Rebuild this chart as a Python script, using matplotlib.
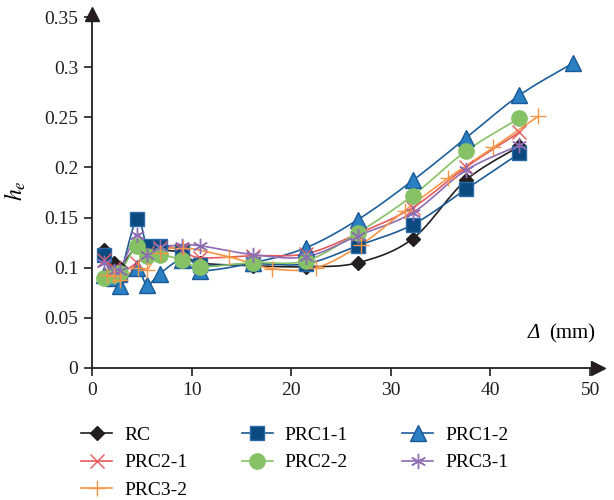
#!/usr/bin/env python

'''Equivalent damping ratio h_e against displacement for the RC and PRC specimens'''

import numpy as np
import matplotlib
matplotlib.use('Agg')
from matplotlib.pyplot import figure
from matplotlib.lines import Line2D

# displacement steps (mm) shared by most specimens
disp = [1.2, 2.2, 2.8, 4.5, 5.5, 6.8, 9.0, 10.8, 16.2, 21.5, 26.7, 32.2, 37.5, 42.9]
disp_prc12 = disp + [48.3]
disp_prc32 = [1.5, 2.2, 2.8, 4.6, 5.5, 6.8, 9.1, 13.7, 18.1, 22.5, 27.0, 31.4, 35.7, 40.3, 44.8]

he_rc    = [0.118, 0.105, 0.100, 0.122, 0.120, 0.118, 0.115, 0.105, 0.102, 0.101, 0.105, 0.129, 0.187, 0.221]
he_prc11 = [0.113, 0.096, 0.093, 0.149, 0.122, 0.122, 0.117, 0.103, 0.104, 0.104, 0.122, 0.143, 0.178, 0.214]
he_prc12 = [0.093, 0.090, 0.082, 0.100, 0.083, 0.094, 0.108, 0.097, 0.105, 0.120, 0.148, 0.187, 0.229, 0.272, 0.304]
he_prc21 = [0.108, 0.100, 0.095, 0.105, 0.115, 0.120, 0.118, 0.110, 0.112, 0.114, 0.134, 0.160, 0.200, 0.235]
he_prc22 = [0.090, 0.093, 0.095, 0.122, 0.112, 0.113, 0.108, 0.101, 0.105, 0.107, 0.135, 0.172, 0.216, 0.249]
he_prc31 = [0.105, 0.097, 0.097, 0.133, 0.113, 0.121, 0.122, 0.122, 0.113, 0.111, 0.132, 0.155, 0.197, 0.222]
he_prc32 = [0.093, 0.092, 0.088, 0.100, 0.098, 0.115, 0.120, 0.111, 0.099, 0.100, 0.123, 0.157, 0.189, 0.220, 0.251]

labels = ['RC', 'PRC1-1', 'PRC1-2', 'PRC2-1', 'PRC2-2', 'PRC3-1', 'PRC3-2']
xs = [disp, disp, disp_prc12, disp, disp, disp, disp_prc32]
ys = [he_rc, he_prc11, he_prc12, he_prc21, he_prc22, he_prc31, he_prc32]

# (line colour, marker, face colour, edge colour, marker size)
styles = [('#231f20', 'D', '#231f20', '#231f20', 7),
          ('#1d5a93', 's', '#0b4a80', '#2a6aa6', 10),
          ('#1d5f9c', '^', '#2b80c4', '#1a5a96', 11),
          ('#e65a5c', 'x', 'none',    '#e65a5c', 10),
          ('#86c166', 'o', '#86c166', '#86c166', 11),
          ('#8e6cb3', (6, 2, 0), 'none', '#8e6cb3', 11),
          ('#f79646', '+', 'none',    '#f79646', 12)]


def smooth(x, y, n=12):
    '''Catmull-Rom curve through the points, like a spreadsheet smoothed line'''
    x = np.asarray(x, float)
    y = np.asarray(y, float)
    P = np.column_stack([x, y])
    P = np.vstack([P[0], P, P[-1]])
    out = []
    t = np.linspace(0, 1, n, endpoint=False)[:, None]
    for i in range(1, len(P) - 2):
        p0, p1, p2, p3 = P[i-1], P[i], P[i+1], P[i+2]
        out.append(0.5 * (2*p1 + (-p0 + p2)*t + (2*p0 - 5*p1 + 4*p2 - p3)*t**2
                          + (-p0 + 3*p1 - 3*p2 + p3)*t**3))
    out.append(P[-2][None, :])
    out = np.vstack(out)
    return out[:, 0], out[:, 1]


matplotlib.rcParams['font.family'] = ['Liberation Serif', 'DejaVu Serif']
matplotlib.rcParams['mathtext.fontset'] = 'stix'

fig = figure(figsize=(6.14, 5.0), dpi=100)
ax = fig.add_axes([0.150, 0.264, 0.824, 0.708])

handles = []
for k in range(len(labels)):
    lc, mk, fc, ec, ms = styles[k]
    sx, sy = smooth(xs[k], ys[k])
    ax.plot(sx, sy, color=lc, lw=1.2, zorder=2)
    ax.plot(xs[k], ys[k], ls='none', marker=mk, markersize=ms,
            markerfacecolor=fc, markeredgecolor=ec, markeredgewidth=1.0, zorder=3)
    handles.append(Line2D([], [], color=lc, lw=1.2, marker=mk, markersize=ms,
                          markerfacecolor=fc, markeredgecolor=ec, label=labels[k]))

ax.set_xlim(0, 50.8)
ax.set_ylim(0, 0.353)
ax.set_xticks([0, 10, 20, 30, 40, 50])
ax.set_yticks([0, 0.05, 0.1, 0.15, 0.2, 0.25, 0.3, 0.35])
ax.set_yticklabels(['0', '0.05', '0.1', '0.15', '0.2', '0.25', '0.3', '0.35'])
for s in ['top', 'right']:
    ax.spines[s].set_visible(False)
for s in ['left', 'bottom']:
    ax.spines[s].set_linewidth(1.3)
    ax.spines[s].set_color('#231f20')
ax.tick_params(direction='out', length=6, width=1.2, labelsize=14, colors='#231f20', pad=4)
ax.plot(1, 0, '>', color='#231f20', markersize=10, transform=ax.transAxes, clip_on=False)
ax.plot(0, 1, '^', color='#231f20', markersize=10, transform=ax.transAxes, clip_on=False)

ax.set_ylabel(r'$h_e$', fontsize=17, labelpad=12)
ax.text(0.995, 0.07, '(mm)', transform=ax.transAxes,
        fontsize=15, ha='right', va='bottom')
ax.text(0.885, 0.07, 'Δ', transform=ax.transAxes, fontstyle='italic',
        fontsize=15, ha='right', va='bottom')

order = [0, 3, 6, 1, 4, 2, 5]
fig.legend([handles[i] for i in order], [labels[i] for i in order],
           loc='upper left', bbox_to_anchor=(0.104, 0.182), ncol=3, frameon=False,
           fontsize=14, handlelength=1.6, columnspacing=2.8, labelspacing=0.5,
           handletextpad=0.6)

fig.savefig('out.png', dpi=100)
